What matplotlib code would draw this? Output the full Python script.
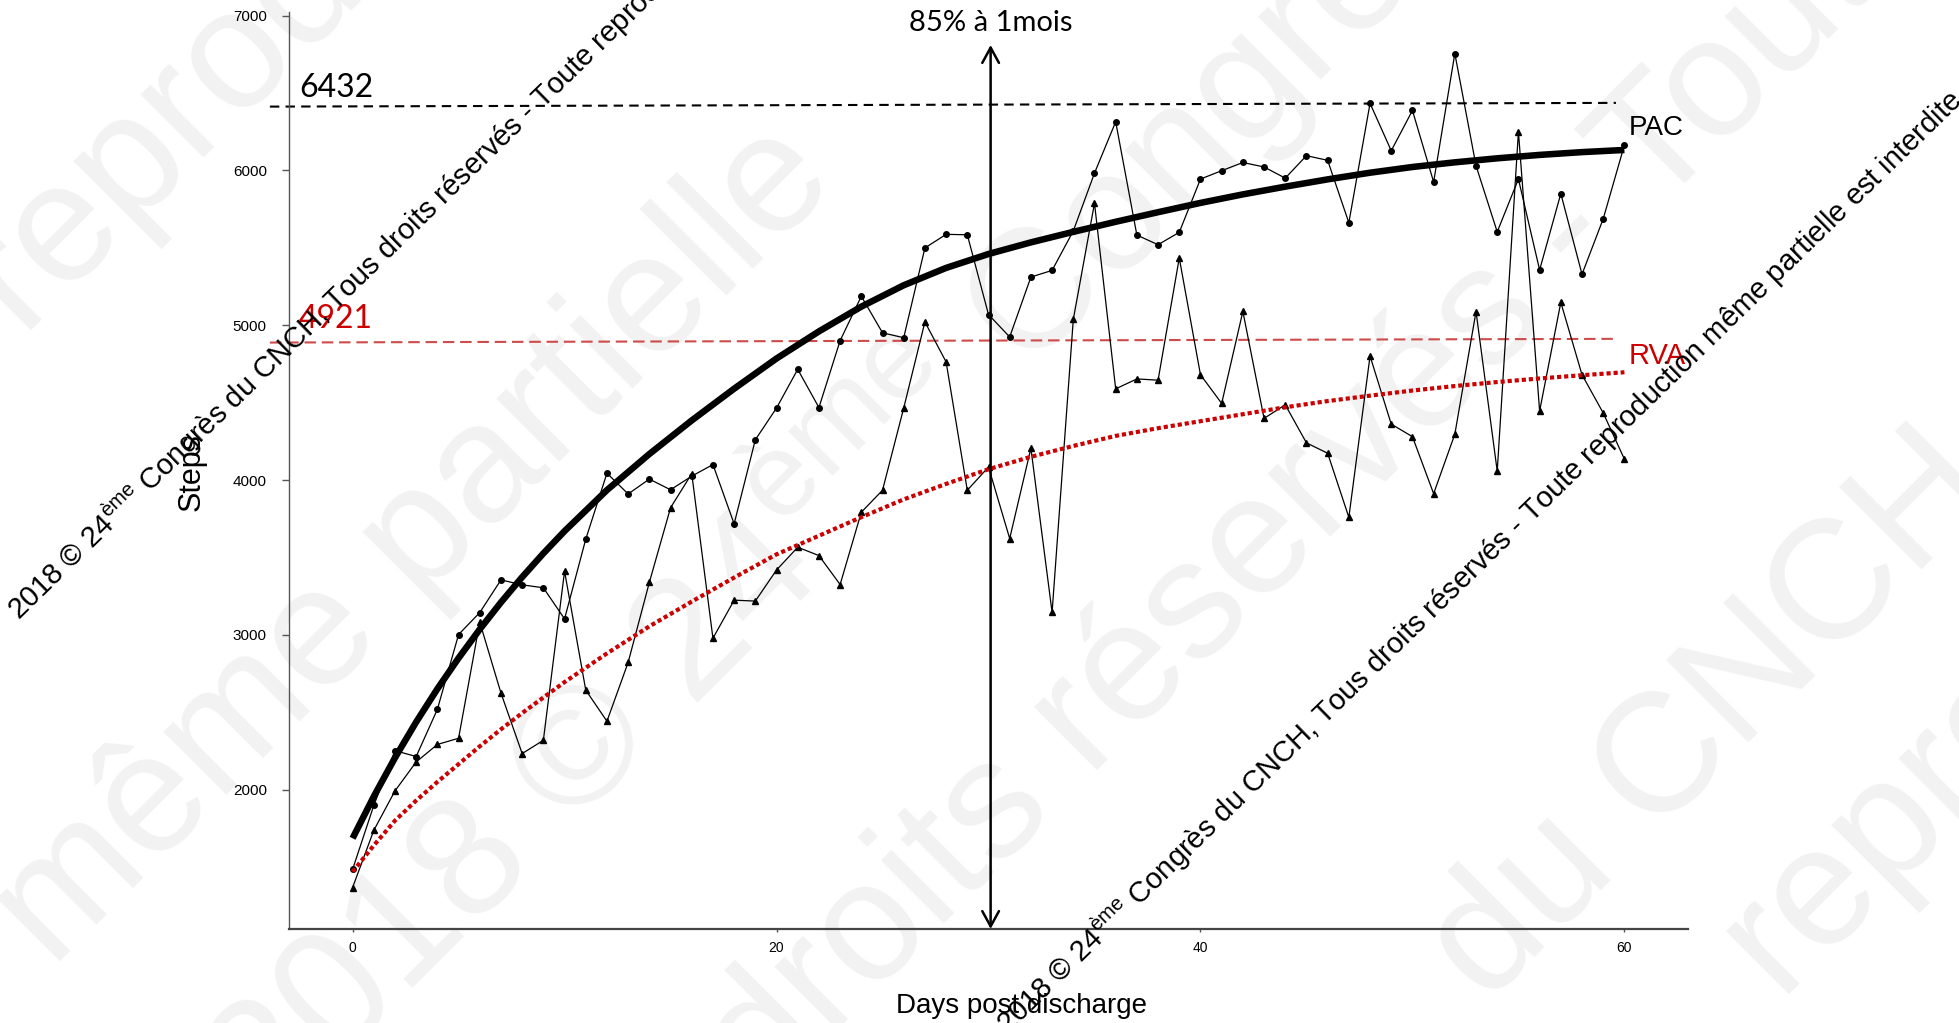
import numpy as np
import matplotlib
matplotlib.use("Agg")
import matplotlib.pyplot as plt

# values
days = np.arange(0, 61)

pac_steps = [1485, 1898, 2252, 2214, 2519, 3002, 3144, 3355, 3323, 3304,
             3103, 3618, 4044, 3910, 4006, 3937, 4025, 4100, 3717, 4260,
             4465, 4715, 4468, 4900, 5187, 4951, 4919, 5499, 5587, 5584,
             5069, 4924, 5311, 5354, 5609, 5982, 6314, 5582, 5520, 5600,
             5944, 5998, 6051, 6022, 5950, 6095, 6065, 5662, 6433, 6127,
             6387, 5925, 6755, 6030, 5603, 5944, 5357, 5850, 5329, 5687,
             6164]

rva_steps = [1368, 1737, 1992, 2179, 2292, 2332, 3082, 2624, 2233, 2319,
             3411, 2643, 2442, 2822, 3339, 3821, 4041, 2978, 3224, 3218,
             3419, 3566, 3512, 3325, 3792, 3934, 4465, 5021, 4763, 3934,
             4084, 3622, 4205, 3145, 5037, 5788, 4589, 4653, 4645, 5434,
             4680, 4495, 5089, 4398, 4486, 4240, 4173, 3759, 4801, 4361,
             4280, 3912, 4296, 5088, 4057, 6250, 4446, 5147, 4680, 4433,
             4135]

fit_days = [0, 1, 2, 3, 4, 5, 6, 7, 8, 9, 10, 12, 14, 16, 18, 20, 22, 24, 26, 28,
            30, 32, 34, 36, 38, 40, 42, 44, 46, 48, 50, 52, 54, 56, 58, 60]
pac_fit = [1686, 1956, 2206, 2437, 2651, 2850, 3036, 3210, 3373, 3526, 3670,
           3935, 4168, 4385, 4590, 4785, 4960, 5120, 5258, 5370, 5460, 5535,
           5603, 5668, 5730, 5790, 5845, 5895, 5942, 5985, 6022, 6052, 6078,
           6100, 6118, 6132]
rva_fit = [1470, 1640, 1800, 1930, 2050, 2165, 2280, 2390, 2495, 2595, 2695,
           2880, 3055, 3215, 3370, 3520, 3640, 3760, 3875, 3975, 4070, 4150,
           4220, 4285, 4335, 4380, 4425, 4470, 4510, 4545, 4578, 4607, 4633,
           4656, 4677, 4696]

pac_plateau = "6432"
rva_plateau = "4921"
ref_days = [-3.9, 59.6]
pac_ref = [6412, 6436]      # the dashed lines are drawn slightly tilted
rva_ref = [4888, 4912]

arrow_day = 30.1
arrow_top = 6810

x_ticks = [0, 20, 40, 60]
y_ticks = [2000, 3000, 4000, 5000, 6000, 7000]

W, H = 1959, 1023
notice = (r"2018 © 24$^{\mathrm{ème}}$ Congrès du CNCH, Tous droits réservés - "
          "Toute reproduction même partielle est interdite.")

plt.rcParams['font.family'] = ['Liberation Sans', 'DejaVu Sans']
plt.rcParams['mathtext.fontset'] = 'custom'
plt.rcParams['mathtext.rm'] = 'Liberation Sans'


def fx(px):
    return px / W


def fy(py):
    return 1 - py / H


fig = plt.figure(figsize=(W / 100, H / 100), dpi=100)
ax = fig.add_axes([fx(289), fy(929), fx(1688) - fx(289), fy(11.7) - fy(929)])
ax.set_facecolor('none')

# big pale watermark behind the plot
big_marks = [("reproduction", 20, 330),
             ("même partielle", 52, 969),
             (r"2018 © 24$^{\mathrm{ème}}$ Congrès du CNCH", 271, 1131),
             ("droits réservés - Toute reproduction", 763, 1104),
             ("du CNCH, Tous droits", 1486, 1005),
             ("reproduction", 1778, 994)]
for txt, px, py in big_marks:
    fig.text(fx(px), fy(py), txt, fontsize=122, color='#f2f2f2', rotation=45,
             rotation_mode='anchor', ha='left', va='baseline', zorder=-5)

# raw series
ax.plot(days, pac_steps, color='black', lw=0.9, marker='o', ms=4, zorder=3)
ax.plot(days, rva_steps, color='black', lw=0.9, marker='^', ms=4.6, zorder=3)

# fitted curves
ax.plot(fit_days, pac_fit, color='black', lw=4.7, solid_capstyle='butt',
        solid_joinstyle='round', zorder=4)
ax.plot(fit_days, rva_fit, color='#cc0000', lw=3, linestyle=(0, (1, 0.7)), zorder=4)

# plateau lines
ax.plot(ref_days, pac_ref, color='black', lw=1.5, linestyle=(0, (4.5, 3)), clip_on=False, zorder=2)
ax.plot(ref_days, rva_ref, color='#cf4a4a', lw=1.5, linestyle=(0, (5.5, 2.8)), clip_on=False, zorder=2)

ax.set_xlim(-3, 63)
ax.set_ylim(1100, 7025)

ax.annotate('', xy=(arrow_day, arrow_top), xytext=(arrow_day, 1100),
            arrowprops=dict(arrowstyle='<->, head_length=1.1, head_width=0.6',
                            lw=1.8, color='black', shrinkA=0, shrinkB=0),
            annotation_clip=False, zorder=6)

ax.set_xticks(x_ticks)
ax.set_yticks(y_ticks)
ax.tick_params(axis='y', labelsize=11, length=5, width=1, color='#555555', pad=11)
ax.tick_params(axis='x', labelsize=10, length=2.5, width=1, color='#555555', pad=6)
for s in ['top', 'right']:
    ax.spines[s].set_visible(False)
ax.spines['left'].set_color('#555555')
ax.spines['left'].set_linewidth(1)
ax.spines['bottom'].set_color('#444444')
ax.spines['bottom'].set_linewidth(1.6)

fig.text(fx(192), fy(472), "Steps", fontsize=22, rotation=90, ha='center', va='center')
fig.text(fx(1022), fy(1006), "Days post discharge", fontsize=20, ha='center', va='center')

fig.text(fx(299), fy(97), pac_plateau, fontsize=23, family='Lato', ha='left', va='baseline')
fig.text(fx(299), fy(328), rva_plateau, fontsize=23, family='Lato', color='#cc0000',
         ha='left', va='baseline')
fig.text(fx(991), fy(31), "85% à 1mois", fontsize=21, family='Lato', ha='center', va='baseline')
fig.text(fx(1629), fy(135), "PAC", fontsize=20, ha='left', va='baseline')
fig.text(fx(1629), fy(364), "RVA", fontsize=21, color='#cc0000', ha='left', va='baseline')

# copyright notice drawn over the chart
for px, py in [(19, 621), (1008, 1035)]:
    fig.text(fx(px), fy(py), notice, fontsize=21, color='black', rotation=44.3,
             rotation_mode='anchor', ha='left', va='baseline', zorder=10)

fig.savefig("out.png", dpi=100)
